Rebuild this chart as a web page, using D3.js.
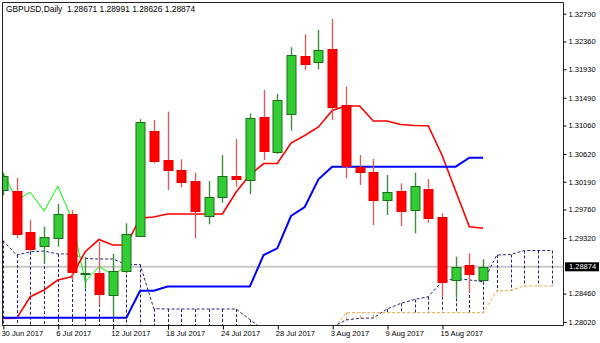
<!DOCTYPE html>
<html>
<head>
<meta charset="utf-8">
<script src="https://cdn.jsdelivr.net/npm/d3@7/dist/d3.min.js"></script>
<style>
  body { margin: 0; background: #fff; }
  svg { display: block; font-family: "Liberation Sans", Arial, sans-serif; }
</style>
</head>
<body>
<div id="chart"></div>
<script>
// DATA
// daily bars, the last five slots are future days that only hold the shifted cloud
const dates = [
  "2017-06-30", "2017-07-03", "2017-07-04", "2017-07-05", "2017-07-06", "2017-07-07",
  "2017-07-10", "2017-07-11", "2017-07-12", "2017-07-13", "2017-07-14", "2017-07-17",
  "2017-07-18", "2017-07-19", "2017-07-20", "2017-07-21", "2017-07-24", "2017-07-25",
  "2017-07-26", "2017-07-27", "2017-07-28", "2017-07-31", "2017-08-01", "2017-08-02",
  "2017-08-03", "2017-08-04", "2017-08-07", "2017-08-08", "2017-08-09", "2017-08-10",
  "2017-08-11", "2017-08-14", "2017-08-15", "2017-08-16", "2017-08-17", "2017-08-18",
  "2017-08-21", "2017-08-22", "2017-08-23", "2017-08-24", "2017-08-25"
];
const opens = [
  1.30062, 1.30051, 1.29408, 1.29185, 1.29324, 1.29686, 1.28775, 1.28773, 1.28438, 1.28798,
  1.29350, 1.30975, 1.30522, 1.30372, 1.30201, 1.29665, 1.29949, 1.30283, 1.30228, 1.31196,
  1.30655, 1.31233, 1.32140, 1.32038, 1.32244, 1.31377, 1.30423, 1.30336, 1.29903, 1.30047,
  1.29757, 1.30073, 1.29649, 1.28670, 1.28902, 1.28671
];
const highs = [
  1.30320, 1.30248, 1.29598, 1.29494, 1.29846, 1.29753, 1.29030, 1.29262, 1.29072, 1.29547,
  1.31156, 1.31145, 1.31274, 1.30537, 1.30330, 1.30201, 1.30604, 1.30851, 1.31249, 1.31609,
  1.31548, 1.32270, 1.32471, 1.32538, 1.32708, 1.31661, 1.30604, 1.30542, 1.30294, 1.30166,
  1.30330, 1.30232, 1.29702, 1.29030, 1.29083, 1.28991
];
const lows = [
  1.29980, 1.29319, 1.29107, 1.28928, 1.29185, 1.28670, 1.28541, 1.28283, 1.28102, 1.28773,
  1.29340, 1.30475, 1.30062, 1.30104, 1.29315, 1.29531, 1.29866, 1.30113, 1.30000, 1.30526,
  1.30619, 1.30980, 1.31919, 1.31930, 1.31145, 1.30243, 1.30140, 1.29521, 1.29675, 1.29505,
  1.29392, 1.29556, 1.28411, 1.28396, 1.28464, 1.28626
];
const closes = [
  1.30279, 1.29392, 1.29149, 1.29330, 1.29691, 1.28789, 1.28780, 1.28448, 1.28804, 1.29377,
  1.31119, 1.30511, 1.30372, 1.30181, 1.29733, 1.29959, 1.30279, 1.30237, 1.31181, 1.30666,
  1.31459, 1.32151, 1.32023, 1.32228, 1.31351, 1.30434, 1.30345, 1.29907, 1.30027, 1.29733,
  1.30124, 1.29624, 1.28643, 1.28875, 1.28762, 1.28874
];
// Ichimoku lines
const tenkan = [
  1.28074, 1.28077, 1.28411, 1.28515, 1.28670, 1.28721, 1.29107, 1.29296, 1.29211, 1.29211,
  1.29629, 1.29644, 1.29691, 1.29691, 1.29691, 1.29691, 1.29691, 1.30031, 1.30294, 1.30472,
  1.30472, 1.30789, 1.30905, 1.31037, 1.31292, 1.31362, 1.31362, 1.31130, 1.31130, 1.31076,
  1.31060, 1.31057, 1.30604, 1.30047, 1.29494, 1.29470
];
const kijun = [
  1.28086, 1.28086, 1.28086, 1.28086, 1.28086, 1.28086, 1.28086, 1.28086, 1.28086, 1.28086,
  1.28504, 1.28504, 1.28569, 1.28569, 1.28569, 1.28569, 1.28569, 1.28569, 1.28569, 1.29056,
  1.29160, 1.29660, 1.29799, 1.30228, 1.30423, 1.30423, 1.30423, 1.30423, 1.30423, 1.30423,
  1.30423, 1.30423, 1.30423, 1.30423, 1.30562, 1.30562
];
const spanA = [
  1.29281, 1.29056, 1.29107, 1.29118, 1.29072, 1.29072, 1.29002, 1.28995, 1.28995, 1.28909,
  1.28909, 1.28226, 1.28221, 1.28221, 1.28221, 1.28221, 1.28221, 1.28221, 1.28058, 1.27896,
  1.27850, 1.27819, 1.27819, 1.27865, 1.27942, 1.28051, 1.28077, 1.28082, 1.28221, 1.28309,
  1.28368, 1.28411, 1.28643, 1.28696, 1.28670, 1.28643, 1.29056, 1.29064, 1.29126, 1.29126,
  1.29126
];
const spanB = [
  1.27650, 1.27650, 1.27650, 1.27650, 1.27650, 1.27650, 1.27650, 1.27650, 1.27650, 1.27650,
  1.27650, 1.27650, 1.27650, 1.27650, 1.27650, 1.27650, 1.27650, 1.27650, 1.27650, 1.27650,
  1.27650, 1.27650, 1.27650, 1.27650, 1.27865, 1.28164, 1.28164, 1.28164, 1.28164, 1.28164,
  1.28164, 1.28164, 1.28164, 1.28164, 1.28164, 1.28164, 1.28499, 1.28507, 1.28577, 1.28577,
  1.28577
];
const chikouShift = 26;
const priceTicks = [1.32790, 1.32360, 1.31930, 1.31490, 1.31060, 1.30620, 1.30190, 1.29760, 1.29320, 1.28460, 1.28020];
const dateTickIdx = [0, 4, 8, 12, 16, 20, 24, 28, 32];
const dateTickLabels = ["30 Jun 2017", "6 Jul 2017", "12 Jul 2017", "18 Jul 2017", "24 Jul 2017",
  "28 Jul 2017", "3 Aug 2017", "9 Aug 2017", "15 Aug 2017"];
const symbol = "GBPUSD,Daily";


// SVG
const width = 600, height = 343;
const plotL = 2, plotR = 563, plotT = 2, plotB = 325;
const svg = d3.select("#chart").append("svg")
  .attr("width", width)
  .attr("height", height);

// SCALES
const x = d3.scaleLinear().domain([0, dates.length - 1]).range([2.9, 551.7]);
const y = d3.scaleLinear().domain([1.28020, 1.32790]).range([322, 13.7]);

svg.append("clipPath").attr("id", "plot")
  .append("rect").attr("x", plotL).attr("y", plotT).attr("width", plotR - plotL).attr("height", plotB - plotT);

const plot = svg.append("g").attr("clip-path", "url(#plot)");

// current price line
const last = closes[closes.length - 1];
plot.append("line")
  .attr("x1", plotL).attr("x2", plotR)
  .attr("y1", y(last)).attr("y2", y(last))
  .attr("stroke", "#c8c8c8").attr("stroke-width", 2);

// cloud hatch
const navy = "#24247e", sandy = "#f8a23c";
plot.append("g").selectAll("line")
  .data(dates.map((d, i) => i))
  .enter().append("line")
    .attr("x1", i => Math.round(x(i)) + 0.5).attr("x2", i => Math.round(x(i)) + 0.5)
    .attr("y1", i => y(spanA[i])).attr("y2", i => y(spanB[i]))
    .attr("stroke", i => spanA[i] >= spanB[i] ? navy : sandy)
    .attr("stroke-width", 1)
    .attr("stroke-dasharray", "3,2");

const line = arr => d3.line().x((d, i) => x(i)).y(d => y(d))(arr);

plot.append("path").attr("d", line(spanB))
  .attr("fill", "none").attr("stroke", sandy).attr("stroke-width", 1).attr("stroke-dasharray", "3,2");
plot.append("path").attr("d", line(spanA))
  .attr("fill", "none").attr("stroke", navy).attr("stroke-width", 1).attr("stroke-dasharray", "3,2");

// chikou: closes drawn 26 bars back
const chikou = closes.map((c, i) => [i - chikouShift, c]).filter(d => d[0] >= -1);
plot.append("path")
  .attr("d", d3.line().x(d => x(d[0])).y(d => y(d[1]))(chikou))
  .attr("fill", "none").attr("stroke", "#00ff00").attr("stroke-width", 1);

plot.append("path").attr("d", line(tenkan))
  .attr("fill", "none").attr("stroke", "#ff0000").attr("stroke-width", 1.6);
plot.append("path").attr("d", line(kijun))
  .attr("fill", "none").attr("stroke", "#0000ff").attr("stroke-width", 2);

// candles
const bars = plot.append("g").selectAll("g")
  .data(closes.map((c, i) => i))
  .enter().append("g");
bars.append("line")
  .attr("x1", i => Math.round(x(i)) + 0.5).attr("x2", i => Math.round(x(i)) + 0.5)
  .attr("y1", i => y(highs[i])).attr("y2", i => y(lows[i]))
  .attr("stroke", i => closes[i] >= opens[i] ? "#3d8f3d" : "#d26262")
  .attr("stroke-width", 1.4);
bars.append("rect")
  .attr("x", i => Math.round(x(i)) - 4)
  .attr("width", 9)
  .attr("y", i => Math.round(y(Math.max(opens[i], closes[i]))) + 0.5)
  .attr("height", i => Math.max(1, Math.round(Math.abs(y(opens[i]) - y(closes[i])))))
  .attr("fill", i => closes[i] >= opens[i] ? "#32cd32" : "#ff0000")
  .attr("stroke", i => closes[i] >= opens[i] ? "#1c6e1c" : "#e80000")
  .attr("stroke-width", 1);

// FRAME & AXES
svg.append("path")
  .attr("d", `M${plotL + 0.5},${plotB}V${plotT + 0.5}H${plotR + 0.5}V${plotB + 0.5}H${plotL}`)
  .attr("fill", "none").attr("stroke", "#222").attr("stroke-width", 1);

const yAxis = svg.append("g")
  .attr("transform", `translate(${plotR + 0.5},0)`)
  .call(d3.axisRight(y).tickValues(priceTicks).tickFormat(d3.format(".5f")).tickSize(3).tickPadding(2));
yAxis.select(".domain").remove();
yAxis.selectAll("text").attr("font-size", 7.5).attr("fill", "#000").attr("font-family", "Liberation Sans, Arial, sans-serif");

const xAxis = svg.append("g")
  .attr("transform", `translate(0,${plotB + 0.5})`)
  .call(d3.axisBottom(x).tickValues(dateTickIdx)
    .tickFormat((d, i) => dateTickLabels[i]).tickSize(4));
xAxis.select(".domain").remove();
xAxis.selectAll(".tick line").attr("transform", "translate(0.5,0)");
xAxis.selectAll("text")
  .attr("text-anchor", "start").attr("dx", -2).attr("y", 5).attr("dy", "0.71em")
  .attr("font-size", 7.6).attr("fill", "#000").attr("font-family", "Liberation Sans, Arial, sans-serif");

// current price label
const tag = svg.append("g").attr("transform", `translate(${plotR + 2},${y(last)})`);
tag.append("rect").attr("x", 0).attr("y", -4.5).attr("width", 34).attr("height", 9).attr("fill", "#000");
tag.append("text").attr("x", 4).attr("y", 0).attr("dy", "0.35em")
  .attr("font-size", 7.5).attr("fill", "#fff").text(d3.format(".5f")(last));

// title
svg.append("text").attr("x", 6).attr("y", 12)
  .attr("font-size", 8.4).attr("fill", "#000")
  .attr("xml:space", "preserve")
  .text(`${symbol}  ${[opens, highs, lows, closes].map(a => d3.format(".5f")(a[a.length - 1])).join(" ")}`);
</script>
</body>
</html>
